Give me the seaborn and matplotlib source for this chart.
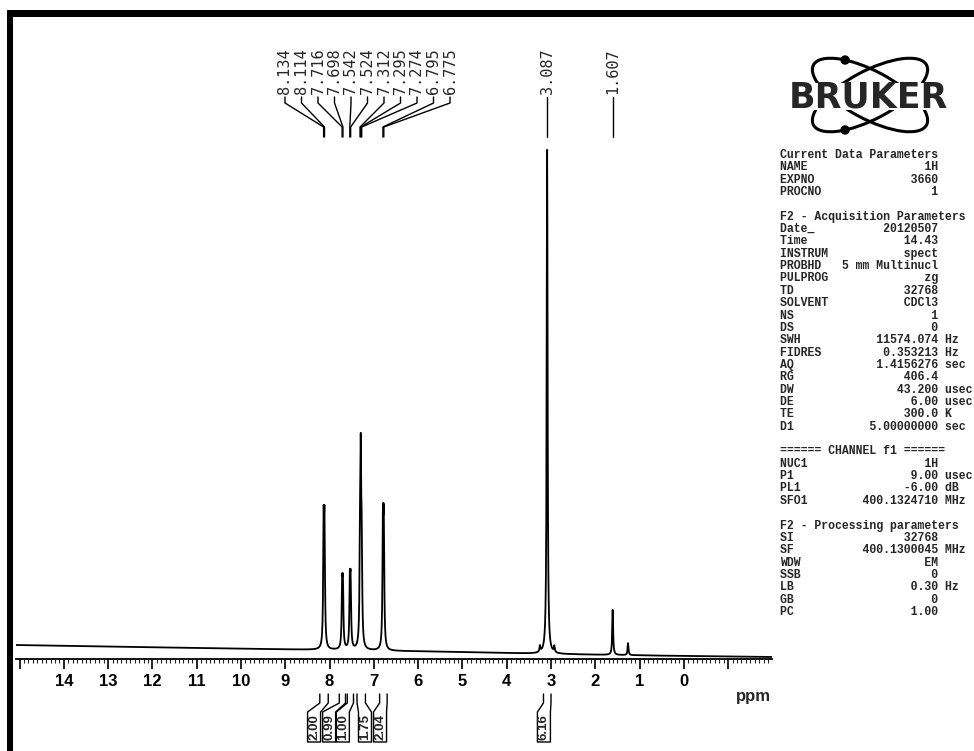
import numpy as np
import matplotlib
matplotlib.use("Agg")
import matplotlib.pyplot as plt
import seaborn as sns
from matplotlib.patches import Ellipse, Rectangle, Circle
from matplotlib.ticker import MultipleLocator

# ---------------- data ----------------
peak_ppm = [8.134, 8.114, 7.716, 7.698, 7.542, 7.524, 7.312, 7.295, 7.274,
            6.795, 6.775, 3.250, 3.087, 2.925, 1.607, 1.260]
peak_height = [113, 113, 57, 57, 60, 60, 88, 166, 88,
               115, 115, 6, 504, 6, 45, 12]
peak_width = 0.012  # Lorentzian half width (ppm)

base_ppm = [-2.0, 0.0, 3.0, 5.0, 8.0, 11.0, 15.1]
base_level = [-7, -6, -4, -2, 0, 2, 5]

group_labels = ["8.134", "8.114", "7.716", "7.698", "7.542", "7.524",
                "7.312", "7.295", "7.274", "6.795", "6.775"]
group_label_ppm = [8.134, 8.114, 7.716, 7.698, 7.542, 7.524,
                   7.312, 7.295, 7.274, 6.795, 6.775]
single_labels = ["3.087", "1.607"]
single_label_ppm = [3.087, 1.607]

integral_values = ["2.00", "0.99", "1.00", "1.75", "2.04", "6.16"]
integral_ranges = [(8.22, 8.03), (7.78, 7.64), (7.60, 7.46),
                   (7.38, 7.19), (6.87, 6.70), (3.17, 3.00)]
integral_box_ppm = [8.35, 8.01, 7.70, 7.20, 6.86, 3.16]

tick_values = list(range(-1, 16))
tick_labels = [str(v) if 0 <= v <= 14 else "" for v in tick_values]

current_params = [("NAME", "1H", ""), ("EXPNO", "3660", ""), ("PROCNO", "1", "")]
acq_params = [("Date_", "20120507", ""), ("Time", "14.43", ""),
              ("INSTRUM", "spect", ""), ("PROBHD", "5 mm Multinucl", ""),
              ("PULPROG", "zg", ""), ("TD", "32768", ""),
              ("SOLVENT", "CDCl3", ""), ("NS", "1", ""), ("DS", "0", ""),
              ("SWH", "11574.074", "Hz"), ("FIDRES", "0.353213", "Hz"),
              ("AQ", "1.4156276", "sec"), ("RG", "406.4", ""),
              ("DW", "43.200", "usec"), ("DE", "6.00", "usec"),
              ("TE", "300.0", "K"), ("D1", "5.00000000", "sec")]
chan_params = [("NUC1", "1H", ""), ("P1", "9.00", "usec"),
               ("PL1", "-6.00", "dB"), ("SFO1", "400.1324710", "MHz")]
proc_params = [("SI", "32768", ""), ("SF", "400.1300045", "MHz"),
               ("WDW", "EM", ""), ("SSB", "0", ""), ("LB", "0.30", "Hz"),
               ("GB", "0", ""), ("PC", "1.00", "")]

# ---------------- spectrum ----------------
grid = np.arange(-2.0, 15.1, 0.0005)
spec = np.interp(grid, base_ppm, base_level).astype(float)
for p, h in zip(peak_ppm, peak_height):
    spec += h * peak_width ** 2 / ((grid - p) ** 2 + peak_width ** 2)

sns.set_style("white")
plt.rcParams["font.family"] = ["Liberation Sans", "DejaVu Sans"]

W, H = 974, 751
fig = plt.figure(figsize=(W / 100, H / 100), dpi=100)
fig.patch.set_facecolor("white")

AX_L, AX_R, AX_T, AX_B = 16, 772, 140, 659
ax = fig.add_axes([AX_L / W, (H - AX_B) / H, (AX_R - AX_L) / W, (AX_B - AX_T) / H])
ax.set_facecolor("none")
sns.lineplot(x=grid, y=spec, ax=ax, color="black", linewidth=1.3,
             estimator=None, sort=False)
ax.set_xlim(15.08, -1.99)
ax.set_ylim(-9, 510)
ax.set_yticks([])
ax.set_ylabel("")
ax.set_xlabel("")
for s in ("top", "right", "left"):
    ax.spines[s].set_visible(False)
ax.spines["bottom"].set_linewidth(1.3)
ax.spines["bottom"].set_color("black")
ax.set_xticks(tick_values)
ax.set_xticklabels(tick_labels, fontsize=12, fontweight="bold")
ax.xaxis.set_minor_locator(MultipleLocator(0.1))
ax.tick_params(axis="x", which="major", direction="out", length=7, width=1.2,
               pad=3.5, colors="black", bottom=True)
ax.tick_params(axis="x", which="minor", direction="out", length=3, width=0.8,
               bottom=True)


def ppm2px(p):
    return ax.transData.transform((p, 0))[0]


# ---------------- overlay in pixel coordinates ----------------
ov = fig.add_axes([0, 0, 1, 1])
ov.set_xlim(0, W)
ov.set_ylim(H, 0)
ov.axis("off")
ov.patch.set_alpha(0)

# scan border (top and left)
ov.add_patch(Rectangle((7, 10), W, 7, fc="black", ec="none"))
ov.add_patch(Rectangle((7, 10), 6, H, fc="black", ec="none"))

# ppm label
ov.text(753, 696, "ppm", fontsize=12, fontweight="bold", ha="center", va="center")

# peak labels (aromatic group)
for i, (lab, p) in enumerate(zip(group_labels, group_label_ppm)):
    lx = 285 + 16.5 * i
    pk = ppm2px(p)
    ov.plot([lx, lx, pk, pk], [97, 103, 127, 137], color="black", lw=1.0)
    ov.text(lx, 94, lab, rotation=90, ha="center", va="bottom", fontsize=11,
            family="DejaVu Sans Mono")
for lab, p in zip(single_labels, single_label_ppm):
    pk = ppm2px(p)
    ov.plot([pk, pk], [97, 137], color="black", lw=1.0)
    ov.text(pk, 94, lab, rotation=90, ha="center", va="bottom", fontsize=11,
            family="DejaVu Sans Mono")

# integrals
for val, (r0, r1), bc in zip(integral_values, integral_ranges, integral_box_ppm):
    c = ppm2px(bc)
    L, R = c - 6.5, c + 6.5
    rl, rr = ppm2px(r0), ppm2px(r1)
    ov.plot([rl, rl, L, L, R, R, rr, rr],
            [694, 703, 712, 742, 742, 712, 703, 694], color="black", lw=1.0)
    ov.text(c, 727, val, rotation=90, ha="center", va="center", fontsize=9.5,
            fontweight="bold")

# Bruker logo
cx, cy, a, b, th = 870, 95, 64, 24, 28
for ang in (th, -th):
    ov.add_patch(Ellipse((cx, cy), 2 * a, 2 * b, angle=ang, fill=False,
                         lw=2.2, ec="black", zorder=2))
t = np.deg2rad(th)
u = np.array([np.cos(t), np.sin(t)])
v = np.array([-np.sin(t), np.cos(t)])
d1 = np.array([cx, cy]) + a * (-0.6) * u + b * (-0.8) * v
ov.add_patch(Circle((d1[0], d1[1]), 4, color="black", zorder=3))
ov.add_patch(Circle((d1[0], 2 * cy - d1[1]), 4, color="black", zorder=3))
ov.add_patch(Rectangle((783, 83), 172, 27, fc="white", ec="none", zorder=3))
ov.text(868, 97, "BRUKER", fontsize=25, fontweight="bold", family="DejaVu Sans",
        ha="center", va="center", zorder=4)

# parameter block
lines = ["Current Data Parameters"]


def fmt(name, value, unit):
    s = name.ljust(23 - len(value)) + value
    if unit:
        s += " " + unit
    return s


lines += [fmt(*r) for r in current_params]
lines += ["", "F2 - Acquisition Parameters"]
lines += [fmt(*r) for r in acq_params]
lines += ["", "====== CHANNEL f1 ======"]
lines += [fmt(*r) for r in chan_params]
lines += ["", "F2 - Processing parameters"]
lines += [fmt(*r) for r in proc_params]
y0, dy = 155, 12.35
for i, ln in enumerate(lines):
    if ln:
        ov.text(780, y0 + i * dy, ln, fontsize=8.3, family="Liberation Mono",
                fontweight="bold", ha="left", va="center", clip_on=False)

fig.savefig("out.png", dpi=100)
